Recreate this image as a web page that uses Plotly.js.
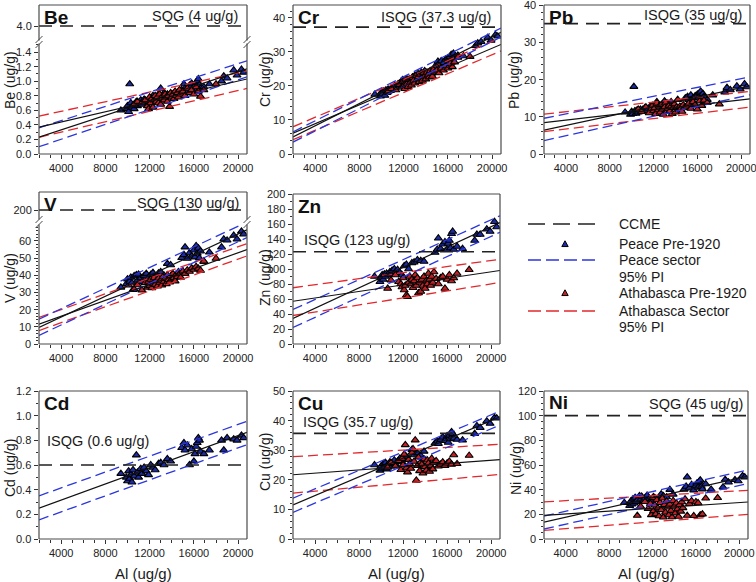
<!DOCTYPE html>
<html><head><meta charset="utf-8">
<script src="https://cdn.plot.ly/plotly-3.0.1.min.js"></script>
<style>html,body{margin:0;padding:0;background:#fff}#chart{width:756px;height:582px}</style>
</head><body><div id="chart"></div>
<script>
// ---------------- DATA ----------------
const AL_PEACE = [9400,9900,10000,10100,10200,10300,10400,10500,10600,10800,10900,11000,11200,11300,11500,11700,11900,12100,12300,12500,12800,13000,13300,13600,13900,14900,15100,15200,15400,15600,15800,16000,16100,16200,16300,16400,16500,16600,16900,17400,18500,18700,19000,19600,19900,20300,20500];
const AL_ATHA = [10600,10900,11300,11600,11800,11900,12000,12100,12200,12300,12400,12500,12600,12700,12800,12900,13000,13100,13200,13300,13400,13500,13600,13700,13800,13900,14000,14100,14200,14300,14400,14500,14600,14700,14800,15000,15200,15400,15600,15800,16000,16200,16400,16600,16900,18000];

const BE_PEACE = [0.60,0.62,0.66,0.58,0.96,0.70,0.64,0.67,0.62,0.72,0.66,0.70,0.74,0.68,0.75,0.72,0.70,0.76,0.80,0.74,0.82,0.90,0.84,0.82,0.80,0.88,0.96,0.90,0.86,0.94,0.97,0.92,0.88,0.98,1.00,1.03,0.95,0.90,0.92,0.96,1.00,1.07,1.04,1.15,1.08,1.16,1.12];
const BE_ATHA = [0.68,0.72,0.70,0.74,0.66,0.62,0.78,0.70,0.76,0.64,0.74,0.80,0.72,0.78,0.70,0.82,0.68,0.76,0.80,0.74,0.82,0.78,0.72,0.80,0.65,0.84,0.78,0.82,0.76,0.86,0.80,0.84,0.78,0.88,0.82,0.86,0.80,0.90,0.84,0.88,0.82,0.92,0.86,0.79,0.88,0.96];
const CR_PEACE = [17.5,17.0,18.2,17.8,18.5,17.2,18.8,18.0,19.0,18.6,19.4,19.0,20.2,19.6,20.6,21.0,21.8,21.2,22.0,21.4,22.6,23.0,23.6,24.0,24.4,26.0,27.2,26.6,27.4,26.8,27.8,28.2,27.0,28.6,29.2,28.0,29.6,28.4,29.0,28.8,31.8,32.6,33.0,34.2,33.4,35.0,34.6];
const CR_ATHA = [18.4,19.2,18.8,20.4,19.6,21.2,20.0,19.2,21.8,20.6,19.8,22.0,21.0,20.2,22.4,21.6,20.8,23.0,21.8,22.6,21.2,23.4,22.2,21.6,23.8,22.8,22.0,24.0,23.2,22.6,24.4,23.6,22.8,24.8,24.0,24.6,23.8,25.2,24.6,26.0,25.2,26.6,25.6,27.0,28.4,28.6];
const PB_PEACE = [11.2,10.6,11.4,10.8,18.1,11.6,10.9,11.8,11.2,12.0,11.4,11.9,12.4,11.6,12.2,12.8,12.0,13.2,14.0,12.6,13.4,14.2,13.6,14.0,13.2,15.0,15.4,14.6,15.8,15.0,15.6,16.0,15.2,16.4,16.8,15.6,16.2,15.4,14.6,15.8,16.6,17.8,17.2,18.2,17.4,18.8,18.0];
const PB_ATHA = [12.0,11.4,12.6,11.0,12.2,13.0,11.6,12.4,10.8,13.6,11.8,12.8,11.2,13.2,12.0,10.6,12.6,13.8,11.4,12.2,13.0,11.6,12.8,10.8,12.4,13.4,11.2,12.6,14.6,11.8,12.8,12.2,11.4,13.2,12.4,12.8,13.6,12.2,14.0,13.2,12.0,14.2,13.0,14.4,13.8,13.4];
const V_PEACE = [33.0,35.0,37.8,34.2,36.4,38.8,35.6,31.6,39.6,40.2,37.0,40.6,38.4,36.2,39.8,41.0,38.6,40.4,41.6,39.2,41.2,42.0,40.0,46.8,46.0,50.2,52.0,56.4,49.8,53.0,51.2,54.6,50.6,57.2,52.8,55.8,50.0,54.0,48.0,53.4,56.4,61.0,60.4,63.2,61.0,65.6,64.0];
const V_ATHA = [32.0,34.4,31.4,35.6,33.0,36.4,34.0,37.6,32.6,35.2,38.4,34.6,36.8,33.6,38.2,35.8,37.0,34.2,39.0,36.4,38.0,35.0,40.2,37.4,36.0,39.6,37.8,41.0,38.6,36.6,40.4,39.2,42.0,40.8,38.8,42.4,41.0,43.0,42.2,44.2,43.4,45.0,44.0,42.8,48.2,49.8];
const ZN_PEACE = [90,83,88,92,86,93,90,94,92,96,93,98,100,96,99,95,92,104,106,100,108,109,112,111,110,122,126,141,127,133,136,126,134,138,128,147,150,126,130,127,138,146,146,153,150,163,156];
const ZN_ATHA = [74,85,92,83,80,76,88,72,78,65,63,82,90,80,86,75,84,92,78,88,68,82,70,86,78,90,74,84,80,94,86,78,90,82,96,87,80,88,90,74,86,92,84,88,94,99];
const CD_PEACE = [0.53,0.50,0.47,0.55,0.49,0.52,0.46,0.56,0.51,0.68,0.54,0.50,0.57,0.53,0.58,0.55,0.52,0.60,0.58,0.56,0.61,0.62,0.60,0.65,0.63,0.74,0.78,0.72,0.76,0.60,0.73,0.63,0.69,0.75,0.78,0.82,0.80,0.71,0.69,0.72,0.80,0.72,0.82,0.81,0.80,0.84,0.82];
const CU_PEACE = [25.0,23.2,24.6,23.8,25.4,24.2,25.8,23.6,25.0,26.0,24.6,25.4,26.6,25.2,26.2,27.2,26.0,27.0,27.8,26.8,30.2,28.4,29.0,28.2,29.6,32.4,33.0,32.2,33.6,34.4,33.2,34.8,32.6,35.0,33.8,36.2,35.6,34.0,33.6,33.4,35.6,38.2,37.6,39.8,39.0,41.0,40.8];
const CU_ATHA = [24.2,25.8,24.6,26.4,23.4,27.2,25.0,28.6,31.8,24.0,22.6,26.8,25.4,23.8,29.2,30.4,26.2,33.4,19.8,24.8,27.6,23.0,26.0,25.2,22.2,27.0,24.4,23.2,26.6,25.6,22.8,24.8,27.2,23.6,25.8,26.4,24.6,25.2,26.0,24.8,25.6,26.2,25.2,28.4,25.4,28.2];
const NI_PEACE = [29.4,27.0,30.6,28.2,32.4,29.0,33.6,30.2,31.4,35.0,32.0,34.6,30.8,33.2,35.4,32.6,31.2,34.2,33.0,31.8,36.4,35.0,34.0,40.0,36.2,40.2,42.6,50.2,41.2,44.0,39.6,43.4,45.2,41.8,46.6,47.8,42.4,40.4,44.6,40.2,42.0,48.2,46.0,48.0,47.0,51.2,50.2];
const NI_ATHA = [19.0,26.4,30.2,24.6,28.6,19.6,33.4,22.8,27.4,20.2,31.6,25.0,18.6,29.4,23.6,33.0,17.6,27.8,21.6,30.6,25.8,19.4,28.2,23.0,17.8,31.0,26.4,21.0,29.0,24.2,18.2,27.6,22.4,30.0,25.2,32.4,19.0,28.6,30.8,18.8,30.0,29.2,19.4,20.2,33.0,33.4];

// regression fits and 95% prediction intervals, at Al = FIT_X
const FIT_X = [2000, 20800];
const BE_FIT_P = [0.23,1.17], BE_UP_P = [0.36,1.28], BE_LO_P = [0.10,1.06];
const BE_FIT_A = [0.37,1.03], BE_UP_A = [0.52,1.14], BE_LO_A = [0.23,0.90];
const CR_FIT_P = [5.0,35.8], CR_UP_P = [6.5,37.0], CR_LO_P = [3.5,34.4];
const CR_FIT_A = [6.1,32.2], CR_UP_A = [8.0,34.2], CR_LO_A = [4.2,30.3];
const PB_FIT_P = [6.4,18.3], PB_UP_P = [9.6,20.7], PB_LO_P = [3.6,15.9];
const PB_FIT_A = [8.4,14.8], PB_UP_A = [10.7,16.8], PB_LO_A = [6.0,12.6];
const V_FIT_P = [9.7,66.5], V_UP_P = [14.5,71.0], V_LO_P = [5.0,62.0];
const V_FIT_A = [11.5,55.0], V_UP_A = [15.5,58.5], V_LO_A = [7.8,51.3];
const ZN_FIT_P = [34,162], ZN_UP_P = [46,171], ZN_LO_P = [22,149];
const ZN_FIT_A = [57,98], ZN_UP_A = [75,113], ZN_LO_A = [38,82];
const CD_FIT_P = [0.25,0.865], CD_UP_P = [0.35,0.955], CD_LO_P = [0.155,0.765];
const CU_FIT_P = [11.5,41.3], CU_UP_P = [13.8,43.2], CU_LO_P = [9.0,38.5];
const CU_FIT_A = [21.7,26.8], CU_UP_A = [27.8,32.0], CU_LO_A = [15.5,21.8];
const NI_FIT_P = [13.7,51.0], NI_UP_P = [18.5,56.0], NI_LO_P = [8.1,45.0];
const NI_FIT_A = [19.1,30.0], NI_UP_A = [30.1,39.5], NI_LO_A = [7.0,20.0];

// CCME guideline line levels (as drawn) and labels
const GUIDE_LEVEL = {Be:4.0, Cr:37.3, Pb:35, V:200, Zn:123, Cd:0.6, Cu:35.7, Ni:100};
const GUIDE_TEXT = {Be:'SQG (4 ug/g)', Cr:'ISQG (37.3 ug/g)', Pb:'ISQG (35 ug/g)', V:'SQG (130 ug/g)', Zn:'ISQG (123 ug/g)', Cd:'ISQG (0.6 ug/g)', Cu:'ISQG (35.7 ug/g)', Ni:'SQG (45 ug/g)'};
const X_TICKS = [4000, 8000, 12000, 16000, 20000];
const BE_YTICKS = [0,0.2,0.4,0.6,0.8,1.0,1.2,1.4];
const CR_YTICKS = [0,10,20,30,40];
const PB_YTICKS = [0,10,20,30,40];
const V_YTICKS = [0,10,20,30,40,50,60];
const ZN_YTICKS = [0,20,40,60,80,100,120,140,160,180,200];
const CD_YTICKS = [0,0.2,0.4,0.6,0.8,1.0,1.2];
const CU_YTICKS = [0,10,20,30,40,50];
const NI_YTICKS = [0,20,40,60,80,100,120];
const LEGEND_LABELS = ['CCME', 'Peace Pre-1920', 'Peace sector', '95% PI', 'Athabasca Pre-1920', 'Athabasca Sector', '95% PI'];

// ---------------- LAYOUT / STYLE ----------------
const W = 756, H = 582;
const FONT = 'Arial, "Liberation Sans", sans-serif';
const px = x => x / W, py = y => 1 - y / H;
const C_PEACE = '#1d2ba6', C_ATHA = '#c22226', C_BLUE = '#2b36dc', C_RED = '#e2282c', C_FRAME = '#4a4a4a';
const EPS = 1e-4;

const PANELS = [
 {el:'Be', n:1, peace:BE_PEACE, atha:BE_ATHA, fp:BE_FIT_P, up:BE_UP_P, lp:BE_LO_P, fa:BE_FIT_A, ua:BE_UP_A, la:BE_LO_A, yt_:BE_YTICKS,
  g:{L:39,R:247,T:5,B:154,lowTop:44,upBot:40}, yr:[0,1.51], mn:0.1, fmt:'.1f', upper:{n:10, range:[3.8,4.3], tick:4.0, text:'4.0'},
  lab:[42,17], gt:{x:240,y:16,a:'right'}, yt:[10,80]},
 {el:'Cr', n:2, peace:CR_PEACE, atha:CR_ATHA, fp:CR_FIT_P, up:CR_UP_P, lp:CR_LO_P, fa:CR_FIT_A, ua:CR_UP_A, la:CR_LO_A, yt_:CR_YTICKS,
  g:{L:293,R:501,T:5,B:154}, yr:[0,43.8], mn:2, fmt:'d', lab:[296,17], gt:{x:493,y:17,a:'right'}, yt:[265,80]},
 {el:'Pb', n:3, peace:PB_PEACE, atha:PB_ATHA, fp:PB_FIT_P, up:PB_UP_P, lp:PB_LO_P, fa:PB_FIT_A, ua:PB_UP_A, la:PB_LO_A, yt_:PB_YTICKS,
  g:{L:544,R:750,T:5,B:154}, yr:[0,40+EPS], mn:2, fmt:'d', lab:[547,17], gt:{x:744,y:15,a:'right'}, yt:[514,80]},
 {el:'V', n:4, peace:V_PEACE, atha:V_ATHA, fp:V_FIT_P, up:V_UP_P, lp:V_LO_P, fa:V_FIT_A, ua:V_UP_A, la:V_LO_A, yt_:V_YTICKS,
  g:{L:39,R:247,T:192,B:344,lowTop:225,upBot:219}, yr:[0,69.3], mn:2, fmt:'d', upper:{n:11, range:[190,220], tick:200, text:'200'},
  lab:[42,204], gt:{x:241,y:203,a:'right'}, yt:[10,278]},
 {el:'Zn', n:5, peace:ZN_PEACE, atha:ZN_ATHA, fp:ZN_FIT_P, up:ZN_UP_P, lp:ZN_LO_P, fa:ZN_FIT_A, ua:ZN_UP_A, la:ZN_LO_A, yt_:ZN_YTICKS,
  g:{L:293,R:500,T:194,B:344}, yr:[0,200+EPS], mn:10, fmt:'d', lab:[296,206], gt:{x:302,y:240,a:'left'}, yt:[265,278]},
 {el:'Cd', n:6, peace:CD_PEACE, atha:null, fp:CD_FIT_P, up:CD_UP_P, lp:CD_LO_P, yt_:CD_YTICKS,
  g:{L:39,R:247,T:391,B:539}, yr:[0,1.2+EPS], mn:0.1, fmt:'.1f', lab:[42,403], gt:{x:45,y:441,a:'left'}, yt:[10,468]},
 {el:'Cu', n:7, peace:CU_PEACE, atha:CU_ATHA, fp:CU_FIT_P, up:CU_UP_P, lp:CU_LO_P, fa:CU_FIT_A, ua:CU_UP_A, la:CU_LO_A, yt_:CU_YTICKS,
  g:{L:293,R:500,T:391,B:539}, yr:[0,50+EPS], mn:2, fmt:'d', lab:[296,403], gt:{x:301,y:422,a:'left'}, yt:[265,462]},
 {el:'Ni', n:8, peace:NI_PEACE, atha:NI_ATHA, fp:NI_FIT_P, up:NI_UP_P, lp:NI_LO_P, fa:NI_FIT_A, ua:NI_UP_A, la:NI_LO_A, yt_:NI_YTICKS,
  g:{L:544,R:748,T:391,B:539}, yr:[0,120+EPS], mn:5, fmt:'d', lab:[547,402], gt:{x:745,y:404,a:'right'}, yt:[516,468]}
];

const traces = [], shapes = [], annotations = [];
const layout = {
  width: W, height: H, margin: {l:0, r:0, t:0, b:0},
  paper_bgcolor: '#fff', plot_bgcolor: 'rgba(0,0,0,0)',
  font: {family: FONT, size: 11, color: '#222'},
  showlegend: false, hovermode: false
};

function line(x0,y0,x1,y1,w,c,dash){ shapes.push({type:'line', xref:'paper', yref:'paper', x0:px(x0), y0:py(y0), x1:px(x1), y1:py(y1), line:{color:c||C_FRAME, width:w||1.2, dash:dash||'solid'}}); }
function tri(cx,cy,s,fill){ shapes.push({type:'path', xref:'paper', yref:'paper',
  path:'M'+px(cx-s)+','+py(cy+s*0.8)+' L'+px(cx+s)+','+py(cy+s*0.8)+' L'+px(cx)+','+py(cy-s)+' Z', fillcolor:fill, line:{color:'#000', width:1}}); }
function ann(text,x,y,o){ annotations.push(Object.assign({text:text, xref:'paper', yref:'paper', x:px(x), y:py(y), showarrow:false, xanchor:'left', yanchor:'middle', font:{family:FONT,size:14,color:'#1a1a1a'}}, o||{})); }

const tickStyle = {ticks:'outside', ticklen:4, tickwidth:1, tickcolor:'#333', showgrid:false, zeroline:false, showline:false,
  ticklabeloverflow:'allow', tickfont:{size:11, family:FONT, color:'#222'}};

PANELS.forEach(p => {
  const g = p.g, n = p.n;
  const xk = 'x' + (n===1?'':n), yk = 'y' + (n===1?'':n);
  const xa = 'xaxis' + (n===1?'':n), ya = 'yaxis' + (n===1?'':n);
  const lowTop = g.lowTop || g.T;
  layout[xa] = Object.assign({}, tickStyle, {domain:[px(g.L), px(g.R)], anchor:yk, range:[2000,20800], tickvals:X_TICKS, tickformat:'d',
     minor:{ticks:'outside', ticklen:2.5, tickcolor:'#333', dtick:1000, tick0:0}});
  layout[ya] = Object.assign({}, tickStyle, {domain:[py(g.B), py(lowTop)], anchor:xk, range:p.yr, tickmode:'array', tickvals:p.yt_,
     showticklabels:false, minor:{ticks:'outside', ticklen:2.5, tickcolor:'#333', dtick:p.mn, tick0:0}});
  // tick labels placed at the same linear positions the axis uses for its tick marks
  p.yt_.forEach(v => {
    const yPx = g.B - (v - p.yr[0]) / (p.yr[1] - p.yr[0]) * (g.B - lowTop);
    annotations.push({text: p.fmt === '.1f' ? v.toFixed(1) : String(v), xref:'paper', yref:'paper', x:px(g.L - 6), y:py(yPx),
      xanchor:'right', yanchor:'middle', showarrow:false, font:{family:FONT, size:11, color:'#222'}});
  });
  let gy = yk;
  if (p.upper) {
    const uk = 'y' + p.upper.n;
    layout['yaxis' + p.upper.n] = Object.assign({}, tickStyle, {domain:[py(g.upBot), py(g.T)], anchor:xk, range:p.upper.range,
      tickvals:[p.upper.tick], ticktext:[p.upper.text]});
    gy = uk;
  }
  traces.push({type:'scatter', mode:'markers', x:AL_PEACE, y:p.peace, xaxis:xk, yaxis:yk, name:'Peace Pre-1920',
    marker:{symbol:'triangle-up', size:7, color:C_PEACE, line:{color:'#000', width:1.1}}});
  if (p.atha) traces.push({type:'scatter', mode:'markers', x:AL_ATHA, y:p.atha, xaxis:xk, yaxis:yk, name:'Athabasca Pre-1920',
    marker:{symbol:'triangle-up', size:7, color:C_ATHA, line:{color:'#000', width:1.1}}});
  const dashL = (y, c, nm) => traces.push({type:'scatter', mode:'lines', x:FIT_X, y:y, xaxis:xk, yaxis:yk, name:nm,
    line:{color:c, width:1.3, dash:'10px,5px'}});
  if (p.atha) { dashL(p.ua, C_RED, 'Athabasca Sector 95% PI'); dashL(p.la, C_RED, 'Athabasca Sector 95% PI'); }
  dashL(p.up, C_BLUE, 'Peace sector 95% PI'); dashL(p.lp, C_BLUE, 'Peace sector 95% PI');
  traces.push({type:'scatter', mode:'lines', x:FIT_X, y:p.fp, xaxis:xk, yaxis:yk, name:'Peace fit', line:{color:'#111', width:1.2}});
  if (p.atha) traces.push({type:'scatter', mode:'lines', x:FIT_X, y:p.fa, xaxis:xk, yaxis:yk, name:'Athabasca fit', line:{color:'#111', width:1.2}});
  const gv = GUIDE_LEVEL[p.el];
  traces.push({type:'scatter', mode:'lines', x:FIT_X, y:[gv, gv], xaxis:xk, yaxis:gy, name:'CCME',
    line:{color:'#222', width:1.7, dash:'13px,8px'}});

  line(g.L, g.T, g.R, g.T); line(g.L, g.B, g.R, g.B);
  if (p.upper) {
    [g.L, g.R].forEach(xx => {
      line(xx, g.T, xx, g.upBot + 0.5); line(xx, lowTop - 0.5, xx, g.B);
      const mid = (g.upBot + lowTop) / 2;
      line(xx - 3.5, mid + 1, xx + 3.5, mid - 6, 1);
      line(xx - 3.5, mid + 6, xx + 3.5, mid - 1, 1);
    });
  } else { line(g.L, g.T, g.L, g.B); line(g.R, g.T, g.R, g.B); }

  ann('<b>' + p.el + '</b>', p.lab[0], p.lab[1], {font:{family:FONT, size:19, color:'#111'}});
  ann(GUIDE_TEXT[p.el], p.gt.x, p.gt.y, {xanchor:p.gt.a, font:{family:FONT, size:14.5, color:'#1a1a1a'}});
  ann(p.el + ' (ug/g)', p.yt[0], p.yt[1], {xanchor:'center', textangle:-90, font:{family:FONT, size:14, color:'#1a1a1a'}});
  if (n >= 6) ann('Al (ug/g)', (g.L + g.R) / 2, 573, {xanchor:'center', font:{family:FONT, size:15, color:'#1a1a1a'}});
});

// ---------------- LEGEND (drawn as layout decoration) ----------------
line(528, 224, 595, 224, 1.7, '#222', '17px,8px');
tri(565, 244, 3.2, C_PEACE);
line(528, 260, 595, 260, 1.3, C_BLUE, '13px,5px');
tri(565, 293, 3.2, C_ATHA);
line(528, 311, 595, 311, 1.3, C_RED, '13px,5px');
const LEG_Y = [224, 244, 260, 277, 293, 311, 327];
LEGEND_LABELS.forEach((t, i) => ann(t, 617, LEG_Y[i], {font:{family:FONT, size:14, color:'#1a1a1a'}}));

layout.shapes = shapes;
layout.annotations = annotations;
Plotly.newPlot('chart', traces, layout, {staticPlot:true, displayModeBar:false});
</script></body></html>
